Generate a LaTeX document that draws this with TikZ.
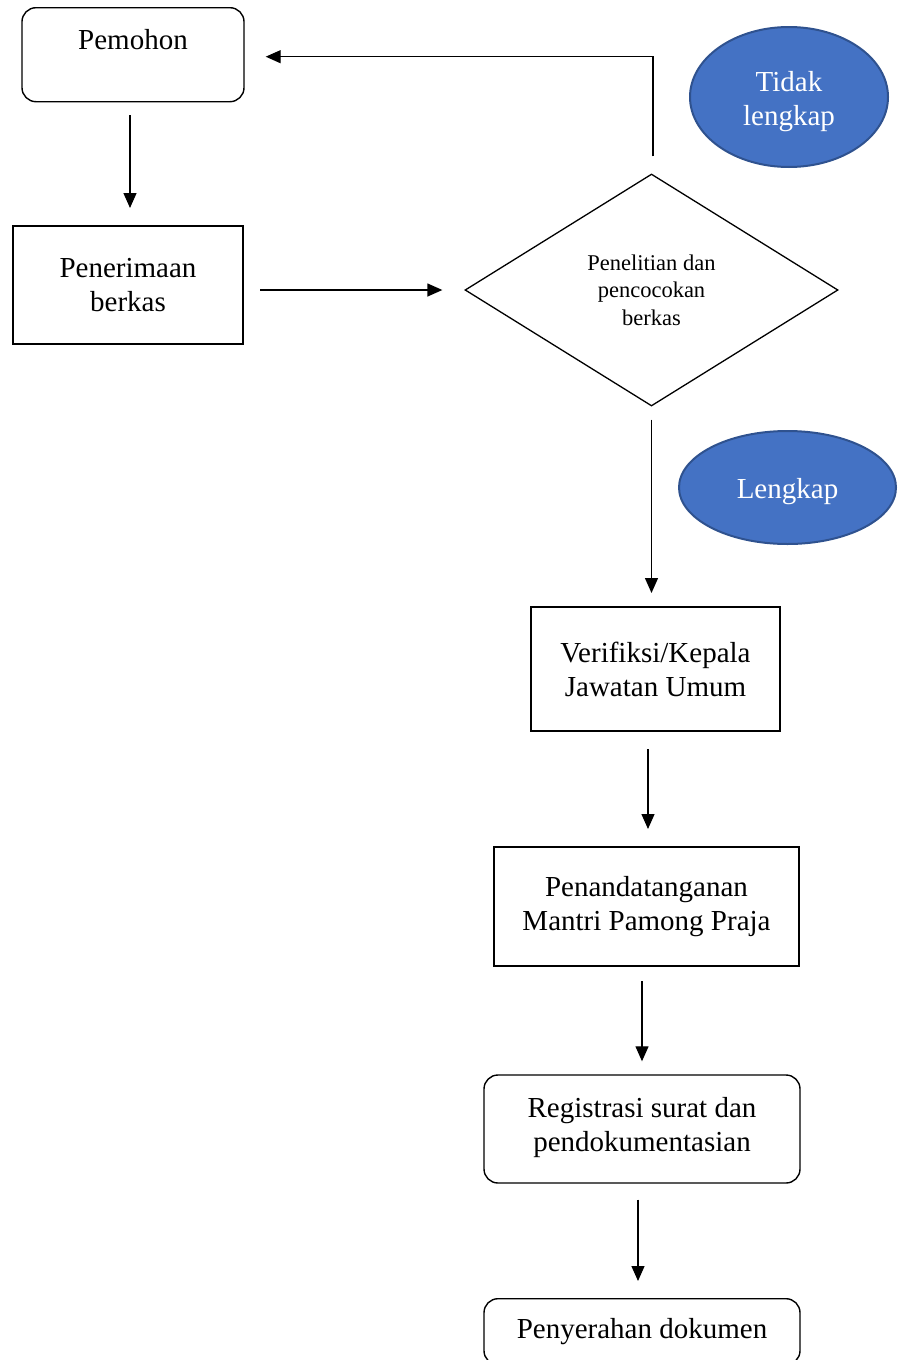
\documentclass[tikz,border=0pt]{standalone}
\usepackage{fontspec}
\setmainfont{Liberation Serif}
\usetikzlibrary{shapes.geometric,arrows.meta}
\definecolor{bubble}{HTML}{4472C4}
\definecolor{bubbleedge}{HTML}{2F528F}
\tikzset{
  every node/.style={inner sep=0pt, align=center},
  bigtext/.style={font=\fontsize{29}{34}\selectfont},
  smalltext/.style={font=\fontsize{22.5}{27.5}\selectfont},
  stepbox/.style={draw, line width=2pt, bigtext},
  roundbox/.style={draw, line width=1.4pt, rounded corners=14pt, bigtext},
  decision/.style={draw, diamond, line width=1.3pt, smalltext},
  bubblenode/.style={ellipse, fill=bubble, draw=bubbleedge, line width=2pt, text=white, bigtext},
  flow/.style={line width=1.3pt, -{Triangle[length=15pt,width=13pt]}}
}
\begin{document}
\begin{tikzpicture}[x=1pt,y=-1pt]
\useasboundingbox (0,0) rectangle (898,1360);

% process steps
\node[roundbox, minimum width=222, text height=42, text depth=52] (pem) at (133,7) [anchor=north] {Pemohon};
\node[stepbox, minimum width=230, minimum height=118] (pen) at (128,285) {Penerimaan\\berkas};
\node[decision, minimum width=373, minimum height=232] (dia) at (651.5,290) {Penelitian dan\\pencocokan\\berkas};
\node[stepbox, minimum width=249, minimum height=124] (ver) at (655.5,669) {Verifiksi/Kepala\\Jawatan Umum};
\node[stepbox, minimum width=305, minimum height=119] (pd) at (646.5,906.5) {Penandatanganan\\Mantri Pamong Praja};
\node[roundbox, minimum width=316, minimum height=108] (reg) at (642,1129) {Registrasi surat dan\\pendokumentasian\rule[-10pt]{0pt}{0pt}};
\node[roundbox, minimum width=316, text height=40, text depth=26] (pny) at (642,1298) [anchor=north] {Penyerahan dokumen};

% decision outcomes
\node[bubblenode, minimum width=198, minimum height=140] (tl) at (789,97) {\rule{0pt}{29pt}Tidak\\lengkap};
\node[bubblenode, minimum width=217, minimum height=113] (lk) at (787.5,487.5) {\rule{0pt}{29pt}Lengkap};

% connectors
\draw[flow, shorten <=13pt, shorten >=17pt] ([xshift=-3pt]pem.south) -- ([xshift=-3pt]pem.south |- pen.north);
\draw[flow, shorten <=16pt, shorten >=22pt] (pen.east |- dia.west) -- (dia.west);
\draw[flow, shorten <=17pt, shorten >=21pt] ([xshift=1.5pt]dia.north) |- ([yshift=-2pt]pem.east);
\draw[flow, shorten <=13pt, shorten >=13pt] (dia.south) -- (dia.south |- ver.north);
\draw[flow, shorten <=17pt, shorten >=17pt] ([xshift=1.5pt]pd.north |- ver.south) -- ([xshift=1.5pt]pd.north);
\draw[flow, shorten <=14pt, shorten >=13pt] (reg.north |- pd.south) -- (reg.north);
\draw[flow, shorten <=16pt, shorten >=17pt] ([xshift=-4pt]reg.south) -- ([xshift=-4pt]pny.north);
\end{tikzpicture}
\end{document}
